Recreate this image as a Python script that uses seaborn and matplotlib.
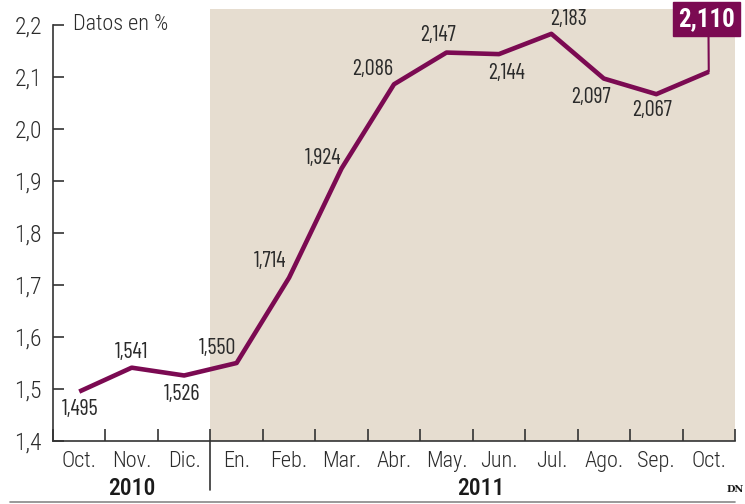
import matplotlib
matplotlib.use("Agg")
import matplotlib.pyplot as plt
import matplotlib.transforms as mtransforms
import seaborn as sns
import pandas as pd

months = ["Oct.", "Nov.", "Dic.", "En.", "Feb.", "Mar.", "Abr.", "May.", "Jun.",
          "Jul.", "Ago.", "Sep.", "Oct."]
values = [1.495, 1.541, 1.526, 1.550, 1.714, 1.924, 2.086, 2.147, 2.144,
          2.183, 2.097, 2.067, 2.110]
labels = ["1,495", "1,541", "1,526", "1,550", "1,714", "1,924", "2,086", "2,147",
          "2,144", "2,183", "2,097", "2,067", "2,110"]
yticks = [1.4, 1.5, 1.6, 1.7, 1.8, 1.9, 2.0, 2.1, 2.2]
ytick_labels = ["1,4", "1,5", "1,6", "1,7", "1,8", "1,9", "2,0", "2,1", "2,2"]
years = ["2010", "2011"]

sns.set_style("white")
FONT = ["Roboto Condensed", "DejaVu Sans"]
plt.rcParams["font.family"] = FONT
plt.rcParams["font.weight"] = 300

LINE = "#7b0a52"
SHADE = "#e6ddd0"
TXT = "#2b2b2b"
NARROW = ["Barlow Condensed", "Roboto Condensed", "DejaVu Sans"]

df = pd.DataFrame({"x": list(range(len(values))), "v": values})

fig = plt.figure(figsize=(7.45, 5.04), dpi=100)
ax = fig.add_axes([53 / 745, 63 / 504, 682 / 745, (504 - 9.4 - 63) / 504])

ax.axvspan(2.5, 12.5, color=SHADE, zorder=0, lw=0)
sns.lineplot(data=df, x="x", y="v", ax=ax, color=LINE, linewidth=3.3, zorder=3)
for l in ax.lines:
    l.set_solid_capstyle("butt")

ax.set_xlim(-0.5, 12.5)
ax.set_ylim(1.4, 2.23)
ax.set_xlabel("")
ax.set_ylabel("")

for s in ["top", "right"]:
    ax.spines[s].set_visible(False)
for s in ["left", "bottom"]:
    ax.spines[s].set_color("#333333")
    ax.spines[s].set_linewidth(1.2)
ax.spines["left"].set_bounds(1.4, 2.2)

ax.set_yticks(yticks)
ax.set_yticklabels(ytick_labels, fontsize=17, color=TXT)
ax.tick_params(axis="y", left=True, direction="in", length=8, width=1.2, color="#333333", pad=8)

ax.set_xticks(range(len(months)))
ax.set_xticklabels(months, fontsize=16, color=TXT)
ax.set_xticks([i + 0.5 for i in range(-1, 13)], minor=True)
ax.tick_params(axis="x", which="major", bottom=False, length=0, pad=7)
ax.tick_params(axis="x", which="minor", bottom=True, direction="in", length=9, width=1.2, color="#333333")

# divider between years
trans = mtransforms.blended_transform_factory(ax.transData, ax.transAxes)
ax.plot([2.5, 2.5], [0, -0.113], transform=trans, color="#333333", lw=1.2, clip_on=False)

ax.text(1, -0.109, years[0], transform=trans, ha="center", va="center", fontsize=17,
        color="#1a1a1a", fontweight="medium")
ax.text(7.65, -0.109, years[1], transform=trans, ha="center", va="center", fontsize=17,
        color="#1a1a1a", fontweight="medium")

ax.text(-0.12, 2.2, "Datos en %", ha="left", va="center", fontsize=16, color=TXT)

offsets = [(1, -18), (0, 15), (-2, -19), (-19, 14), (-19, 16), (-18, 10), (-21, 15),
           (-8, 17), (8, -19), (17, 14), (-13, -19), (-4, -16)]
for i, (dx, dy) in enumerate(offsets):
    ax.annotate(labels[i], (i, values[i]), xytext=(dx, dy), textcoords="offset pixels",
                ha="center", va="center", fontsize=16, color=TXT, family=NARROW,
                fontweight="normal")

last = len(values) - 1
ax.annotate(labels[last], (last, values[last]), xytext=(-2, 53), textcoords="offset pixels",
            ha="center", va="center", fontsize=18, fontweight="bold", color="white",
            bbox=dict(boxstyle="square,pad=0.2", fc=LINE, ec=LINE),
            arrowprops=dict(arrowstyle="-", color=LINE, lw=1.5, shrinkA=0, shrinkB=0,
                            relpos=(0.53, 0)),
            annotation_clip=False, zorder=5)

# bottom rule
fig.add_artist(plt.Line2D([10 / 745, 735 / 745], [2 / 504, 2 / 504], color="#888888", lw=1.2))
fig.text(744 / 745, 14 / 504, "DN", fontsize=7, fontweight="bold", family="DejaVu Serif",
         color="#1a1a1a", ha="right", va="center")

fig.savefig("out.png", dpi=100)
